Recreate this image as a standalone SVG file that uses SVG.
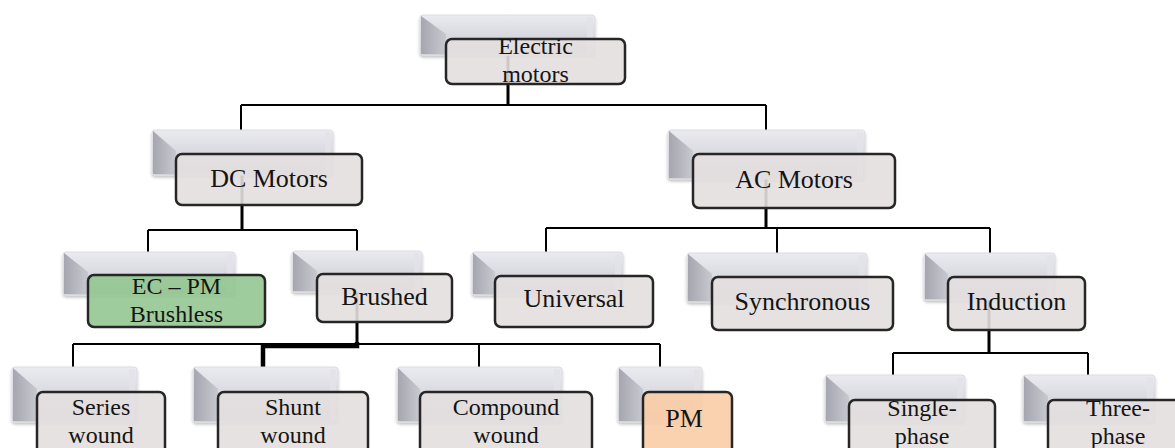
<svg xmlns="http://www.w3.org/2000/svg" width="1175" height="448" viewBox="0 0 1175 448">
<defs>
<linearGradient id="face" x1="0" y1="0" x2="0" y2="1"><stop offset="0" stop-color="#eaeaf0"/><stop offset="1" stop-color="#c8c8d0"/></linearGradient>
<linearGradient id="left" x1="0" y1="0" x2="1" y2="0"><stop offset="0" stop-color="#a6a6b0"/><stop offset="1" stop-color="#c8c8d0"/></linearGradient>
<filter id="sh" x="-10%" y="-10%" width="120%" height="130%"><feGaussianBlur in="SourceAlpha" stdDeviation="1.5"/><feOffset dx="0" dy="1.5"/><feComponentTransfer><feFuncA type="linear" slope="0.25"/></feComponentTransfer><feMerge><feMergeNode/><feMergeNode in="SourceGraphic"/></feMerge></filter>
<style>
.g{fill:url(#face);stroke:#dcdce2;stroke-width:1;filter:url(#sh)}
.gl{fill:url(#left)}
.gr{fill:#e2e2e8;opacity:0.8}
.f{fill:#e4dfdf;fill-opacity:0.9;stroke:#262626;stroke-width:2.5}
.green{fill:#95c791}
.peach{fill:#f9cda6}
.t{font-family:"Liberation Serif","Times New Roman",serif;font-size:26px;fill:#141414;text-anchor:middle}
.t2{font-family:"Liberation Serif","Times New Roman",serif;font-size:24px;fill:#141414;text-anchor:middle}
.c{fill:none;stroke:#000;stroke-width:2}
.ck{fill:none;stroke:#000;stroke-width:3}
.cx{fill:none;stroke:#000;stroke-width:4.5}
</style>
</defs>
<rect width="1175" height="448" fill="#fff"/>
<g id="connectors">
<path class="ck" d="M508 55V105"/>
<path class="c" d="M241 105H766M241 105V130M766 105V130"/>
<path class="ck" d="M242 175V230"/>
<path class="c" d="M148 230H357M148 230V252M357 230V251"/>
<path class="ck" d="M766 179V228"/>
<path class="c" d="M546 228H990M546 228V252M777 228V253M990 228V253"/>
<path class="ck" d="M357 292V344"/>
<path class="c" d="M73 344H660M73 344V367M479 344V367M660 344V367"/>
<path class="cx" d="M357 342V346H263V367"/>
<path class="ck" d="M989 300V353"/>
<path class="c" d="M893 353H1088M893 353V375M1088 353V375"/>
</g>
<g id="n-electric">
<rect class="g" x="420" y="15" width="175" height="40" rx="3"/>
<polygon class="gl" points="421,16 446,34 446,54 421,54"/>
<rect class="gr" x="587" y="17" width="6" height="36"/>
<rect class="f" x="446" y="39" width="179" height="45" rx="6"/>
<text class="t2" x="535.5" y="54">Electric</text>
<text class="t2" x="535.5" y="82">motors</text>
</g>
<g id="n-dc">
<rect class="g" x="152" y="130" width="181" height="45" rx="3"/>
<polygon class="gl" points="153,131 176,151 176,174 153,174"/>
<rect class="gr" x="325" y="132" width="6" height="41"/>
<rect class="f" x="176" y="154" width="186" height="51" rx="6"/>
<text class="t" x="269" y="187">DC Motors</text>
</g>
<g id="n-ac">
<rect class="g" x="668" y="130" width="197" height="49" rx="3"/>
<polygon class="gl" points="669,131 693,151 693,178 669,178"/>
<rect class="gr" x="857" y="132" width="6" height="45"/>
<rect class="f" x="693" y="154" width="202" height="54" rx="6"/>
<text class="t" x="794" y="188">AC Motors</text>
</g>
<g id="n-ecpm">
<rect class="g" x="63" y="252" width="172" height="43" rx="3"/>
<polygon class="gl" points="64,253 88,272 88,294 64,294"/>
<rect class="gr" x="227" y="254" width="6" height="39"/>
<rect class="f green" x="88" y="275" width="177" height="52" rx="6"/>
<text class="t2" x="176.5" y="294">EC – PM</text>
<text class="t2" x="176.5" y="322">Brushless</text>
</g>
<g id="n-brushed">
<rect class="g" x="292" y="251" width="130" height="41" rx="3"/>
<polygon class="gl" points="293,252 317,271 317,291 293,291"/>
<rect class="gr" x="414" y="253" width="6" height="37"/>
<rect class="f" x="317" y="274" width="135" height="48" rx="6"/>
<text class="t" x="384.5" y="305">Brushed</text>
</g>
<g id="n-universal">
<rect class="g" x="472" y="252" width="151" height="43" rx="3"/>
<polygon class="gl" points="473,253 495,272 495,294 473,294"/>
<rect class="gr" x="615" y="254" width="6" height="39"/>
<rect class="f" x="495" y="276" width="158" height="51" rx="6"/>
<text class="t" x="574" y="307">Universal</text>
</g>
<g id="n-synchronous">
<rect class="g" x="687" y="253" width="180" height="49" rx="3"/>
<polygon class="gl" points="688,254 712,274 712,301 688,301"/>
<rect class="gr" x="859" y="255" width="6" height="45"/>
<rect class="f" x="712" y="277" width="181" height="53" rx="6"/>
<text class="t" x="802.5" y="310">Synchronous</text>
</g>
<g id="n-induction">
<rect class="g" x="924" y="253" width="131" height="47" rx="3"/>
<polygon class="gl" points="925,254 948,274 948,299 925,299"/>
<rect class="gr" x="1047" y="255" width="6" height="43"/>
<rect class="f" x="948" y="277" width="137" height="53" rx="6"/>
<text class="t" x="1016.5" y="310">Induction</text>
</g>
<g id="n-series">
<rect class="g" x="12" y="367" width="125" height="55" rx="3"/>
<polygon class="gl" points="13,368 37,389 37,421 13,421"/>
<rect class="gr" x="129" y="369" width="6" height="51"/>
<rect class="f" x="37" y="392" width="128" height="64" rx="6"/>
<text class="t2" x="101" y="415">Series</text>
<text class="t2" x="101" y="443">wound</text>
</g>
<g id="n-shunt">
<rect class="g" x="193" y="367" width="145" height="55" rx="3"/>
<polygon class="gl" points="194,368 218,389 218,421 194,421"/>
<rect class="gr" x="330" y="369" width="6" height="51"/>
<rect class="f" x="218" y="392" width="150" height="64" rx="6"/>
<text class="t2" x="293" y="415">Shunt</text>
<text class="t2" x="293" y="443">wound</text>
</g>
<g id="n-compound">
<rect class="g" x="397" y="367" width="165" height="55" rx="3"/>
<polygon class="gl" points="398,368 420,389 420,421 398,421"/>
<rect class="gr" x="554" y="369" width="6" height="51"/>
<rect class="f" x="420" y="392" width="172" height="64" rx="6"/>
<text class="t2" x="506" y="415">Compound</text>
<text class="t2" x="506" y="443">wound</text>
</g>
<g id="n-pm">
<rect class="g" x="618" y="367" width="84" height="55" rx="3"/>
<polygon class="gl" points="619,368 643,389 643,421 619,421"/>
<rect class="gr" x="694" y="369" width="6" height="51"/>
<rect class="f peach" x="643" y="392" width="89" height="64" rx="6"/>
<text class="t" x="684" y="427">PM</text>
</g>
<g id="n-single">
<rect class="g" x="825" y="375" width="140" height="47" rx="3"/>
<polygon class="gl" points="826,376 849,396 849,421 826,421"/>
<rect class="gr" x="957" y="377" width="6" height="43"/>
<rect class="f" x="849" y="400" width="146" height="62" rx="6"/>
<text class="t2" x="922" y="416">Single-</text>
<text class="t2" x="922" y="444">phase</text>
</g>
<g id="n-three">
<rect class="g" x="1023" y="375" width="132" height="47" rx="3"/>
<polygon class="gl" points="1024,376 1048,396 1048,421 1024,421"/>
<rect class="gr" x="1147" y="377" width="6" height="43"/>
<rect class="f" x="1048" y="400" width="140" height="62" rx="6"/>
<text class="t2" x="1118" y="416">Three-</text>
<text class="t2" x="1118" y="444">phase</text>
</g>
</svg>
